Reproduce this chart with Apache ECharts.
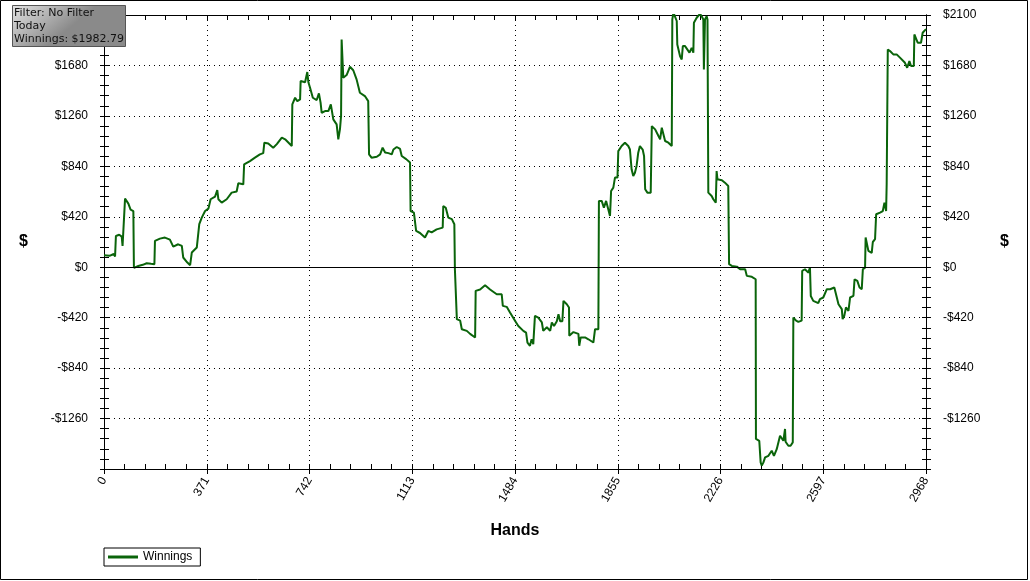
<!DOCTYPE html>
<html>
<head>
<meta charset="utf-8">
<script src="https://cdn.jsdelivr.net/npm/echarts@6/dist/echarts.min.js"></script>
<style>
html,body{margin:0;padding:0;background:#fff;}
#chart{width:1030px;height:581px;}
</style>
</head>
<body>
<div id="chart"></div>
<script>
// ---- data ----
const hands = [0,20,35,40,43,55,64,67,72,76,88,96,106,108,124,140,154,170,182,184,202,220,238,250,268,281,286,301,311,317,335,341,344,353,360,365,377,385,401,409,413,425,443,461,479,485,503,506,527,545,563,575,579,593,611,624,642,654,678,680,690,698,708,710,726,734,738,744,754,768,776,782,786,798,810,819,825,828,840,846,852,856,858,862,864,876,888,900,912,924,942,954,957,966,985,997,1006,1015,1027,1039,1045,1057,1069,1075,1091,1105,1107,1119,1127,1141,1159,1171,1183,1201,1207,1223,1225,1234,1243,1256,1265,1267,1274,1286,1292,1310,1322,1340,1342,1358,1376,1394,1418,1436,1440,1454,1466,1484,1496,1514,1524,1529,1538,1544,1550,1556,1568,1581,1586,1599,1611,1617,1625,1635,1641,1647,1655,1659,1671,1679,1680,1695,1713,1716,1721,1737,1749,1767,1773,1785,1787,1797,1805,1813,1821,1827,1831,1839,1845,1854,1857,1869,1881,1893,1899,1905,1911,1917,1923,1929,1935,1945,1950,1954,1962,1974,1978,1990,1996,2002,2008,2014,2020,2026,2038,2050,2052,2056,2062,2068,2070,2080,2086,2090,2098,2106,2114,2122,2128,2130,2140,2152,2158,2164,2166,2170,2176,2179,2182,2194,2200,2209,2212,2215,2231,2242,2254,2257,2267,2285,2297,2315,2321,2339,2353,2354,2366,2371,2375,2381,2387,2399,2411,2419,2429,2435,2441,2447,2453,2459,2461,2471,2479,2487,2489,2499,2507,2519,2521,2531,2543,2549,2552,2561,2579,2585,2597,2610,2622,2637,2646,2652,2664,2667,2673,2679,2688,2694,2706,2710,2720,2728,2736,2740,2748,2750,2760,2772,2776,2784,2788,2802,2812,2818,2824,2826,2830,2838,2850,2862,2874,2892,2900,2908,2914,2924,2926,2932,2938,2950,2956,2968];
const winnings = [100,95,110,90,260,270,255,177,180,571,530,480,468,-5,10,20,33,28,25,219,238,247,230,172,191,177,81,39,17,122,164,175,358,413,420,468,488,566,588,643,566,538,566,621,630,699,690,857,884,912,940,950,1037,1030,995,1025,1079,1065,1009,1356,1411,1383,1397,1550,1540,1625,1540,1494,1411,1392,1447,1370,1286,1300,1300,1356,1356,1231,1189,1065,1150,1260,1896,1896,1578,1600,1669,1640,1564,1453,1425,1383,940,912,920,940,995,955,950,940,980,1001,985,926,900,871,468,455,302,285,247,302,290,315,330,330,510,495,413,400,358,-17,-432,-445,-516,-530,-555,-585,-197,-185,-150,-185,-225,-225,-322,-330,-377,-446,-490,-530,-545,-627,-654,-600,-640,-405,-420,-460,-530,-500,-530,-460,-490,-450,-391,-450,-450,-280,-308,-335,-571,-540,-555,-654,-585,-585,-600,-627,-516,-516,552,552,496,552,480,427,635,663,746,746,967,1009,1037,1009,980,815,759,787,843,954,1009,980,926,649,621,621,1175,1148,1135,1093,1065,1162,1162,1051,1037,1009,2063,2120,2120,2050,1855,1757,1730,1841,1841,1814,1786,1827,1786,2035,2077,2110,2090,2063,1647,2063,2090,2063,621,593,566,538,801,732,725,704,676,25,11,5,-17,-17,-72,-80,-100,-1430,-1445,-1625,-1652,-1625,-1583,-1570,-1528,-1570,-1515,-1500,-1403,-1417,-1445,-1347,-1453,-1486,-1486,-1458,-419,-445,-455,-445,-31,-17,-45,-3,-239,-280,-299,-265,-252,-183,-183,-169,-252,-308,-349,-432,-405,-335,-363,-252,-238,-100,-114,-169,-183,-17,-3,247,136,120,210,233,441,455,468,538,468,690,1813,1800,1772,1772,1745,1702,1661,1716,1675,1675,1938,1952,1869,1869,1952,1982.79];
const handTicks = {min: 0, max: 2968, step: 371};
const dollarTicks = {min: -1680, max: 2100, step: 420};
const filterLines = ['Filter: No Filter', 'Today', 'Winnings: $1982.79'];
const seriesName = 'Winnings';

// ---- chart ----
const FONT = 'Liberation Sans';
const fmtDollar = (hideTop) => (v) => {
  if (v === dollarTicks.min) return '';
  if (hideTop && v === dollarTicks.max) return '';
  return v < 0 ? '-$' + Math.abs(v) : '$' + v;
};
const baseY = {
  type: 'value', min: dollarTicks.min, max: dollarTicks.max, interval: dollarTicks.step,
  axisLine: {show: true, onZero: false, lineStyle: {color: '#000', width: 1}},
  splitLine: {show: false},
  axisLabel: {show: false}
};
const baseX = {
  type: 'value', min: handTicks.min, max: handTicks.max, interval: handTicks.step,
  axisLine: {show: true, onZero: false, lineStyle: {color: '#000', width: 1}},
  splitLine: {show: false},
  axisLabel: {show: false}
};

const chart = echarts.init(document.getElementById('chart'), null, {renderer: 'canvas'});
chart.setOption({
  backgroundColor: '#fff',
  animation: false,
  grid: {left: 104, right: 104, top: 15, bottom: 112, containLabel: false},
  xAxis: [
    Object.assign({}, baseX, {
      position: 'bottom',
      name: 'Hands', nameLocation: 'middle', nameGap: 54,
      nameTextStyle: {fontFamily: FONT, fontWeight: 'bold', fontSize: 16, color: '#000'},
      axisTick: {show: true, inside: false, length: 5, lineStyle: {color: '#000'}},
      axisLabel: {show: true, rotate: 60, margin: 9, fontFamily: FONT, fontSize: 12, color: '#000',
                  formatter: (v) => String(v)},
      splitLine: {show: true, lineStyle: {color: '#000', type: [1, 4], width: 1}}
    }),
    Object.assign({}, baseX, {
      position: 'bottom',
      axisTick: {show: true, inside: true, length: 5, lineStyle: {color: '#000'}},
      minorTick: {show: true, splitNumber: 5, length: 5, lineStyle: {color: '#000'}}
    }),
    Object.assign({}, baseX, {
      position: 'top',
      axisTick: {show: true, inside: true, length: 5, lineStyle: {color: '#000'}},
      minorTick: {show: true, splitNumber: 5, length: 5, lineStyle: {color: '#000'}}
    })
  ],
  yAxis: [
    Object.assign({}, baseY, {
      position: 'left',
      name: '$', nameLocation: 'middle', nameRotate: 0, nameGap: 76,
      nameTextStyle: {fontFamily: FONT, fontWeight: 'bold', fontSize: 16, color: '#000'},
      axisTick: {show: true, inside: false, length: 4, lineStyle: {color: '#000'}},
      minorTick: {show: true, splitNumber: 5, length: 4, lineStyle: {color: '#000'}},
      axisLabel: {show: true, margin: 16, fontFamily: FONT, fontSize: 12, color: '#000', formatter: fmtDollar(true)},
      splitLine: {show: true, lineStyle: {color: '#000', type: [1, 4], width: 1}}
    }),
    Object.assign({}, baseY, {
      position: 'left',
      axisTick: {show: true, inside: true, length: 5, lineStyle: {color: '#000'}},
      minorTick: {show: true, splitNumber: 5, length: 5, lineStyle: {color: '#000'}}
    }),
    Object.assign({}, baseY, {
      position: 'right',
      name: '$', nameLocation: 'middle', nameRotate: 0, nameGap: 74,
      nameTextStyle: {fontFamily: FONT, fontWeight: 'bold', fontSize: 16, color: '#000'},
      axisTick: {show: true, inside: false, length: 5, lineStyle: {color: '#000'}},
      minorTick: {show: true, splitNumber: 5, length: 5, lineStyle: {color: '#000'}},
      axisLabel: {show: true, margin: 17, fontFamily: FONT, fontSize: 12, color: '#000', formatter: fmtDollar(false)}
    }),
    Object.assign({}, baseY, {
      position: 'right',
      axisTick: {show: true, inside: true, length: 4, lineStyle: {color: '#000'}},
      minorTick: {show: true, splitNumber: 5, length: 4, lineStyle: {color: '#000'}}
    })
  ],
  legend: {
    show: true,
    data: [{name: seriesName, icon: 'rect'}],
    left: 104, top: 548,
    orient: 'horizontal',
    itemWidth: 30, itemHeight: 3,
    padding: [2, 8, 2, 4],
    borderColor: '#000', borderWidth: 1, borderRadius: 0,
    backgroundColor: '#fff',
    textStyle: {fontFamily: FONT, fontSize: 12, color: '#000', lineHeight: 14}
  },
  series: [{
    name: seriesName,
    type: 'line',
    xAxisIndex: 0, yAxisIndex: 0,
    data: hands.map((h, i) => [h, winnings[i]]),
    showSymbol: false, symbol: 'none',
    clip: true,
    lineStyle: {color: '#0a640a', width: 2},
    itemStyle: {color: '#0a640a'},
    markLine: {
      silent: true, symbol: ['none', 'none'],
      label: {show: false},
      lineStyle: {color: '#000', type: 'solid', width: 1},
      data: [{yAxis: 0}],
      animation: false
    },
    z: 3
  }],
  graphic: [
    {type: 'rect', silent: true, z: 100,
     shape: {x: 0.5, y: 0.5, width: 1027, height: 579},
     style: {fill: 'none', stroke: '#000', lineWidth: 1}},
    {type: 'rect', silent: true, z: 101,
     shape: {x: 12.5, y: 5.5, width: 113, height: 41},
     style: {
       fill: new echarts.graphic.LinearGradient(0, 0, 0.3, 1, [
         {offset: 0, color: '#e4e4e4'}, {offset: 1, color: '#8a8a8a'}
       ]),
       stroke: '#555', lineWidth: 1
     }},
    {type: 'text', silent: true, z: 102, left: 14, top: 7,
     style: {text: filterLines.join('\n'), fontFamily: 'DejaVu Sans', fontSize: 11, lineHeight: 13, fill: '#111'}}
  ]
});
</script>
</body>
</html>
